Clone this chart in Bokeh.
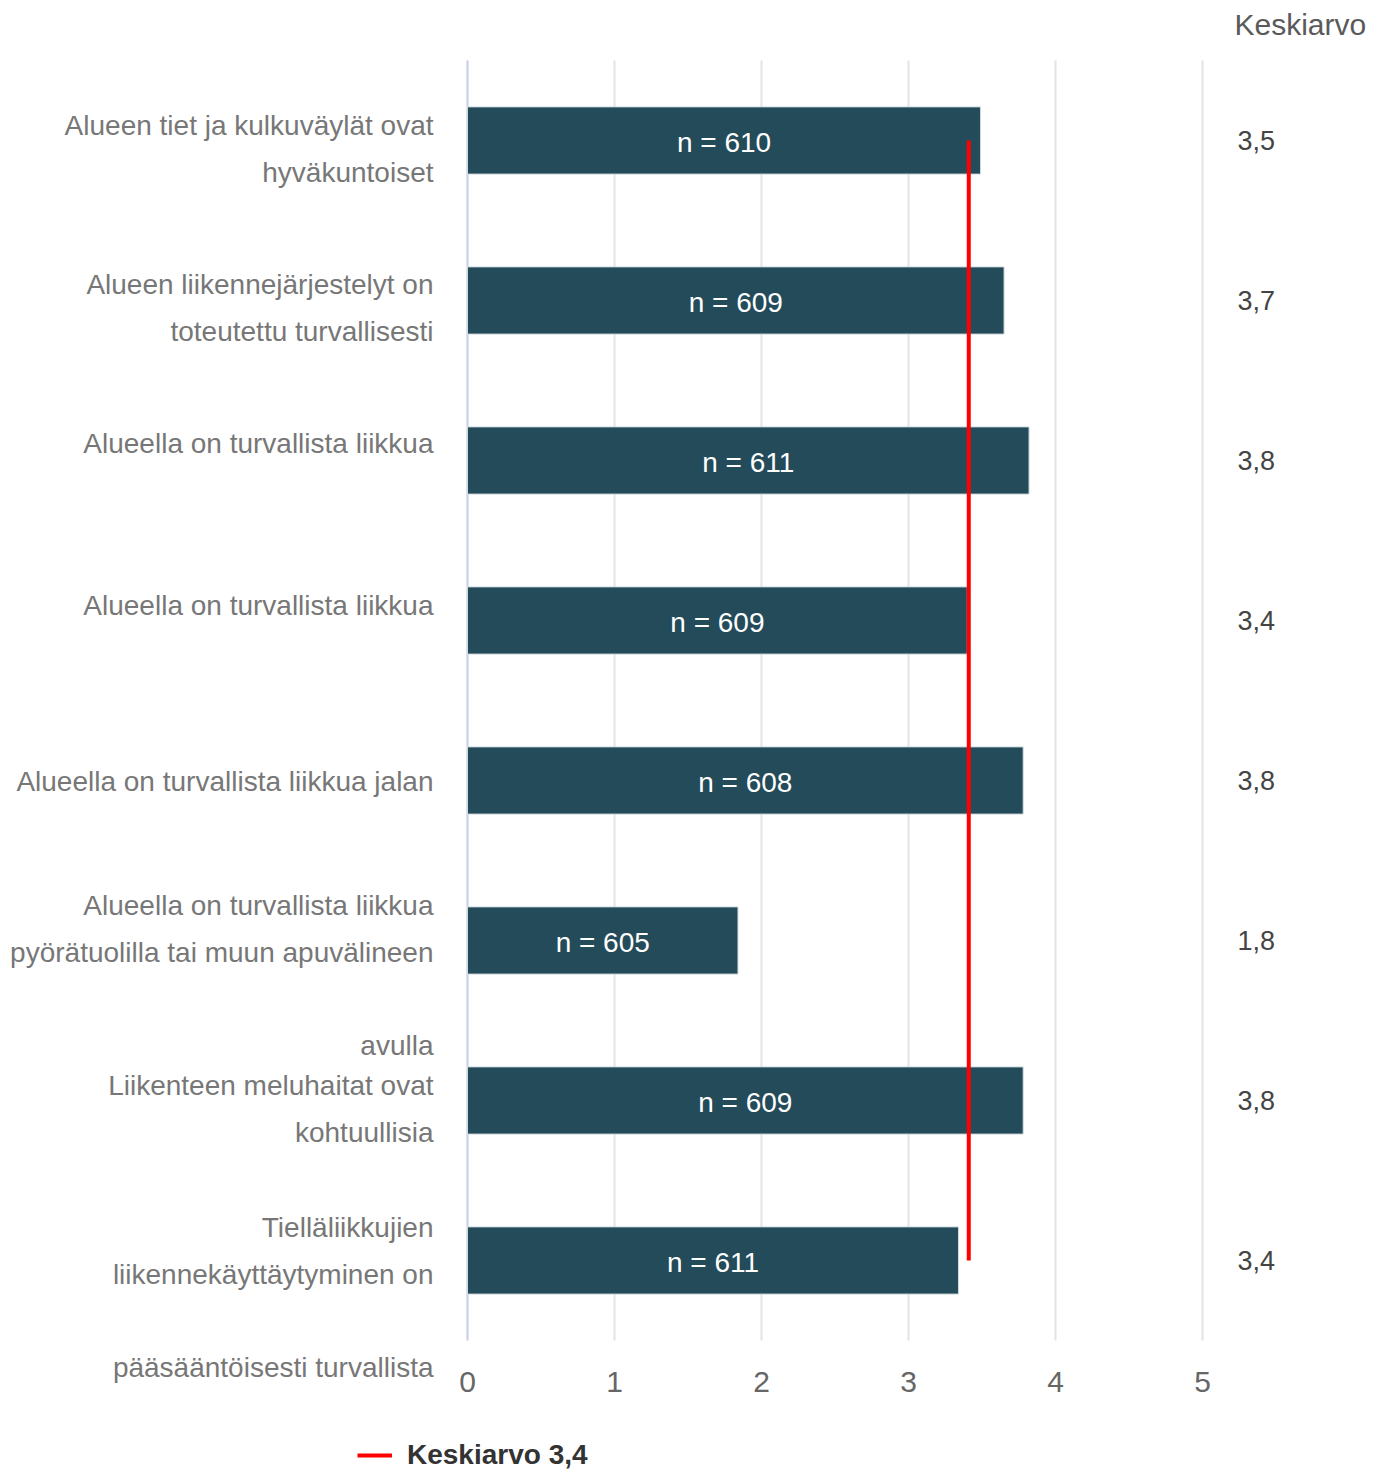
import numpy as np
from bokeh.plotting import figure
from bokeh.models import Range1d, ColumnDataSource, Legend, LegendItem
from bokeh.core.properties import value
from bokeh.embed import file_html
from bokeh.resources import INLINE

# ---------------- data ----------------
categories = [
    "Alueen tiet ja kulkuväylät ovat hyväkuntoiset",
    "Alueen liikennejärjestelyt on toteutettu turvallisesti",
    "Alueella on turvallista liikkua",
    "Alueella on turvallista liikkua",
    "Alueella on turvallista liikkua jalan",
    "Alueella on turvallista liikkua pyörätuolilla tai muun apuvälineen avulla",
    "Liikenteen meluhaitat ovat kohtuullisia",
    "Tielläliikkujien liikennekäyttäytyminen on pääsääntöisesti turvallista",
]
# wrapped label lines as shown ("" = empty line)
label_lines = [
    ["Alueen tiet ja kulkuväylät ovat", "hyväkuntoiset"],
    ["Alueen liikennejärjestelyt on", "toteutettu turvallisesti"],
    ["Alueella on turvallista liikkua"],
    ["Alueella on turvallista liikkua"],
    ["Alueella on turvallista liikkua jalan"],
    ["Alueella on turvallista liikkua", "pyörätuolilla tai muun apuvälineen", "", "avulla"],
    ["Liikenteen meluhaitat ovat", "kohtuullisia"],
    ["Tielläliikkujien", "liikennekäyttäytyminen on", "", "pääsääntöisesti turvallista"],
]
means = [3.49, 3.65, 3.82, 3.40, 3.78, 1.84, 3.78, 3.34]
n_counts = [610, 609, 611, 609, 608, 605, 609, 611]
mean_labels = ["3,5", "3,7", "3,8", "3,4", "3,8", "1,8", "3,8", "3,4"]
overall_mean = 3.41
overall_label = "Keskiarvo 3,4"
column_header = "Keskiarvo"
x_ticks = [0, 1, 2, 3, 4, 5]
x_tick_labels = ["0", "1", "2", "3", "4", "5"]

# ---------------- layout / style ----------------
FONT = "Liberation Sans"
BAR_COLOR = "#234b5a"
W, H = 1389, 1471
PLOT_LEFT_PX, UNIT_PX = 467.0, 147.0       # pixel of x=0, pixels per unit
PLOT_TOP_PX, ROW_PX = 60.0, 160.0          # pixel of top of plot area, pixels per row
LINE_SPACING_PX = 46.7
first_line_offset_px = [-15, -16, -17, -15, 1, -35, -15, -33]

nrows = len(categories)
ys = np.arange(nrows) + 0.5

x_range = Range1d(-PLOT_LEFT_PX / UNIT_PX, (W - PLOT_LEFT_PX) / UNIT_PX)
y_range = Range1d((H - PLOT_TOP_PX) / ROW_PX, -PLOT_TOP_PX / ROW_PX)

p = figure(width=W, height=H, output_backend="svg", toolbar_location=None,
           x_range=x_range, y_range=y_range, min_border=0)
p.outline_line_color = None
p.background_fill_color = "white"
p.border_fill_color = "white"
p.xaxis.visible = False
p.yaxis.visible = False
p.xgrid.visible = False
p.ygrid.visible = False

# vertical grid lines and zero line
p.segment(x0=x_ticks, x1=x_ticks, y0=0, y1=nrows, line_color="#e4e4e4", line_width=2)
p.segment(x0=[x_ticks[0]], x1=[x_ticks[0]], y0=0, y1=nrows, line_color="#c9d3ea", line_width=2)

# x tick labels
p.text(x=x_ticks, y=nrows + 41 / ROW_PX, text=x_tick_labels, text_align="center",
       text_baseline="middle", text_font=value(FONT), text_font_size="30px",
       text_color="#666666")

# bars
src = ColumnDataSource(dict(
    y=ys, right=means, mid=np.array(means) / 2.0,
    ntext=["n = %d" % n for n in n_counts], mlabel=mean_labels,
))
p.hbar(y="y", left=0, right="right", height=0.42, source=src,
       fill_color=BAR_COLOR, line_color="#cfd9de", line_width=1)
p.text(x="mid", y="y", text="ntext", source=src, text_align="center",
       text_baseline="middle", text_color="white", text_font=value(FONT),
       text_font_size="28px", y_offset=2)

# mean line
mean_r = p.line(x=[overall_mean, overall_mean], y=[ys[0], ys[-1]],
                line_color="#ff0000", line_width=4)

# category labels (left)
ly, lt = [], []
for i, lines in enumerate(label_lines):
    for k, t in enumerate(lines):
        if t == "":
            continue
        ly.append(ys[i] + (first_line_offset_px[i] + k * LINE_SPACING_PX) / ROW_PX)
        lt.append(t)
p.text(x=0, y=ly, text=lt, x_offset=-34, text_align="right", text_baseline="middle",
       text_font=value(FONT), text_font_size="28px", text_color="#777777")

# right column values and header
p.text(x=x_ticks[-1], y="y", text="mlabel", source=src, x_offset=35,
       text_align="left", text_baseline="middle", text_font=value(FONT),
       text_font_size="27px", text_color="#444444")
p.text(x=[x_ticks[-1]], y=[-(PLOT_TOP_PX - 24) / ROW_PX], text=[column_header], x_offset=32,
       text_align="left", text_baseline="middle", text_font=value(FONT),
       text_font_size="30px", text_color="#5a5a5a")

# legend
legend = Legend(items=[LegendItem(label=overall_label, renderers=[mean_r])],
                location=(357, 0), orientation="horizontal",
                padding=0, margin=0, spacing=0, border_line_color=None,
                background_fill_alpha=0, glyph_width=35, glyph_height=20,
                label_standoff=15, label_text_font=FONT,
                label_text_font_size="28px", label_text_font_style="bold",
                label_text_color="#333333")
p.add_layout(legend)

open("out.html", "w").write(file_html(p, INLINE))
